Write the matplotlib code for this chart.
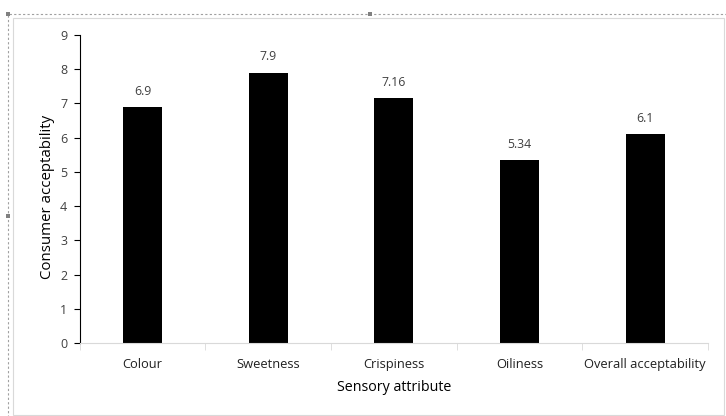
import numpy as np
from matplotlib import pyplot as plt
from matplotlib.patches import Rectangle

attributes = ['Colour', 'Sweetness', 'Crispiness', 'Oiliness', 'Overall acceptability']
scores = [6.9, 7.9, 7.16, 5.34, 6.1]
score_labels = ['6.9', '7.9', '7.16', '5.34', '6.1']

plt.rcParams['font.family'] = ['Open Sans', 'DejaVu Sans']

fig = plt.figure(figsize=(7.26, 4.16), dpi=100)
ax = fig.add_axes([0.110, 0.175, 0.865, 0.741])

# outer frame like the selected chart box (dotted part runs off the right/bottom edges)
fig.patches.append(Rectangle((8 / 726, -10 / 416), 740 / 726, 412 / 416, transform=fig.transFigure,
                             fill=False, ec='#a0a0a0', lw=0.8, ls=(0, (2, 2))))
fig.patches.append(Rectangle((13 / 726, 1 / 416), 711 / 726, 397 / 416, transform=fig.transFigure,
                             fill=False, ec='#d9d9d9', lw=0.8))
for hx, hy in [(8, 402), (370, 402), (8, 200)]:
    fig.patches.append(Rectangle(((hx - 2) / 726, (hy - 2) / 416), 4 / 726, 4 / 416,
                                 transform=fig.transFigure, fc='#808080', ec='none'))

x = np.arange(len(attributes))
ax.bar(x, scores, width=0.31, color='black')
for xi, s, lab in zip(x, scores, score_labels):
    ax.text(xi, s + 0.27, lab, ha='center', va='bottom', fontsize=8.8, color='#404040')

ax.set_xlim(-0.5, len(attributes) - 0.5)
ax.set_ylim(0, 9)
ax.set_yticks(range(10))
ax.set_xticks(x)
ax.set_xticklabels(attributes, fontsize=9.3)
ax.set_xticks(np.arange(-0.5, len(attributes)), minor=True)
ax.tick_params(axis='x', which='major', length=0, pad=11)
ax.tick_params(axis='x', which='minor', length=5, color='#d9d9d9', direction='out')
ax.tick_params(axis='y', labelsize=9, length=4, color='black', pad=5, labelcolor='#404040')
ax.tick_params(axis='x', labelcolor='#202020')

for side in ['top', 'right']:
    ax.spines[side].set_visible(False)
ax.spines['left'].set_color('black')
ax.spines['bottom'].set_color('#d9d9d9')

ax.set_xlabel('Sensory attribute', fontsize=10.3, labelpad=6)
ax.set_ylabel('Consumer acceptability', fontsize=10.8)
ax.yaxis.set_label_coords(-0.040, 0.475)

fig.savefig('out.png', dpi=100)
